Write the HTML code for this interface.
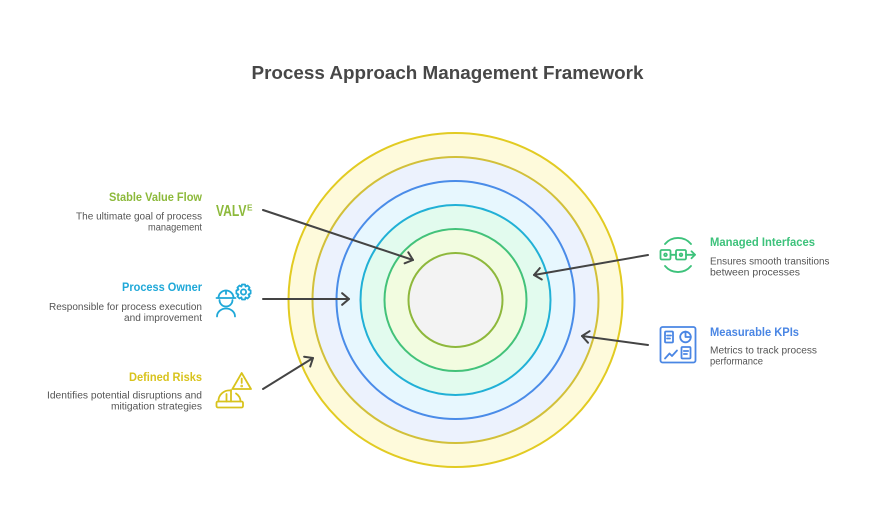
<!DOCTYPE html>
<html>
<head>
<meta charset="utf-8">
<style>
  html, body { margin:0; padding:0; background:#ffffff; }
  body { width:894px; height:528px; overflow:hidden; }
  svg { display:block; }
  text { font-family: "Liberation Sans", Arial, sans-serif; }
  .t { font-weight:bold; font-size:12px; }
  .d { font-size:10px; fill:#555555; }
</style>
</head>
<body>
<svg width="894" height="528" viewBox="0 0 894 528" xmlns="http://www.w3.org/2000/svg">
  <rect x="0" y="0" width="894" height="528" fill="#ffffff"/>

  <!-- Title -->
  <text x="251.5" y="79" font-size="18.5" font-weight="bold" fill="#474747" textLength="392" lengthAdjust="spacingAndGlyphs">Process Approach Management Framework</text>

  <!-- Concentric circles -->
  <circle cx="455.5" cy="300" r="167" fill="#fefadb" stroke="#e2cb22" stroke-width="2"/>
  <circle cx="455.5" cy="300" r="143" fill="#ecf2fd" stroke="#d2c03a" stroke-width="2"/>
  <circle cx="455.5" cy="300" r="119" fill="#e7f7fe" stroke="#4a8ce8" stroke-width="2"/>
  <circle cx="455.5" cy="300" r="95" fill="#e2fbee" stroke="#21b0d6" stroke-width="2"/>
  <circle cx="455.5" cy="300" r="71" fill="#f2fce0" stroke="#43c27a" stroke-width="2"/>
  <circle cx="455.5" cy="300" r="47" fill="#f3f3f3" stroke="#8eb83c" stroke-width="2"/>

  <!-- Arrows -->
  <g stroke="#444444" stroke-width="2" fill="none" stroke-linecap="round" stroke-linejoin="round">
    <line x1="263" y1="210" x2="413" y2="260"/>
    <polyline points="408.3,252.3 413,260 404.6,263.3"/>

    <line x1="263" y1="299" x2="349" y2="299"/>
    <polyline points="342.1,293.2 349,299 342.1,304.8"/>

    <line x1="263" y1="389" x2="313" y2="358"/>
    <polyline points="304.1,356.7 313,358 310.2,366.6"/>

    <line x1="648" y1="255" x2="534" y2="275"/>
    <polyline points="541.8,279.5 534,275 539.8,268.1"/>

    <line x1="648" y1="345" x2="582" y2="336"/>
    <polyline points="588,342.7 582,336 589.6,331.2"/>
  </g>

  <!-- Left: Stable Value Flow -->
  <text class="t" x="202" y="201" text-anchor="end" fill="#8cb93a" textLength="93" lengthAdjust="spacingAndGlyphs">Stable Value Flow</text>
  <text class="d" x="202" y="219.3" text-anchor="end" textLength="126" lengthAdjust="spacingAndGlyphs">The ultimate goal of process</text>
  <text class="d" x="202" y="230.5" text-anchor="end" textLength="54" lengthAdjust="spacingAndGlyphs">management</text>
  <!-- VALVE icon -->
  <text x="216" y="215.8" font-size="15.5" font-weight="bold" fill="#8cb93a" textLength="30.5" lengthAdjust="spacingAndGlyphs">VALV</text>
  <text x="247" y="210.5" font-size="8.5" font-weight="bold" fill="#8cb93a" textLength="5.5" lengthAdjust="spacingAndGlyphs">E</text>

  <!-- Left: Process Owner -->
  <text class="t" x="202" y="291" text-anchor="end" fill="#1fa8d8" textLength="80" lengthAdjust="spacingAndGlyphs">Process Owner</text>
  <text class="d" x="202" y="310" text-anchor="end" textLength="153" lengthAdjust="spacingAndGlyphs">Responsible for process execution</text>
  <text class="d" x="202" y="321" text-anchor="end" textLength="78" lengthAdjust="spacingAndGlyphs">and improvement</text>
  <!-- Process owner icon -->
  <g stroke="#1fa8d8" stroke-width="1.8" fill="none" stroke-linecap="round" stroke-linejoin="round">
    <path d="M218.5,298 A7.5,7.5 0 0 1 233.5,298"/>
    <line x1="216.5" y1="298" x2="235.5" y2="298"/>
    <line x1="226" y1="290.5" x2="226" y2="294"/>
    <path d="M219.5,300 A6.5,6.5 0 0 0 232.5,300"/>
    <path d="M217,316.5 A9,8 0 0 1 235,316.5"/>
    <circle cx="243.5" cy="292" r="2.6"/>
    <path d="M242,284.5 L245,284.5 L245.6,286.6 L247.5,285.5 L249.6,287.6 L248.5,289.5 L250.6,290.5 L250.6,293.5 L248.5,294.5 L249.6,296.4 L247.5,298.5 L245.6,297.4 L245,299.5 L242,299.5 L241.4,297.4 L239.5,298.5 L237.4,296.4 L238.5,294.5 L236.4,293.5 L236.4,290.5 L238.5,289.5 L237.4,287.6 L239.5,285.5 L241.4,286.6 Z"/>
  </g>

  <!-- Left: Defined Risks -->
  <text class="t" x="202" y="381" text-anchor="end" fill="#d8c31c" textLength="73" lengthAdjust="spacingAndGlyphs">Defined Risks</text>
  <text class="d" x="202" y="398.3" text-anchor="end" textLength="155" lengthAdjust="spacingAndGlyphs">Identifies potential disruptions and</text>
  <text class="d" x="202" y="409.7" text-anchor="end" textLength="91" lengthAdjust="spacingAndGlyphs">mitigation strategies</text>
  <!-- Risks icon -->
  <g stroke="#d8c31c" stroke-width="1.8" fill="none" stroke-linecap="round" stroke-linejoin="round">
    <path d="M241.7,373 L251,389 L232.4,389 Z"/>
    <line x1="241.7" y1="378.5" x2="241.7" y2="383"/>
    <circle cx="241.7" cy="386" r="0.4" fill="#d8c31c"/>
    <path d="M218.5,401.5 A11,10.5 0 0 1 231,390.5"/>
    <path d="M236,393.5 A11,10 0 0 1 240.5,401.5"/>
    <line x1="226.5" y1="394" x2="226.5" y2="401.5"/>
    <line x1="231" y1="390" x2="231" y2="401.5"/>
    <rect x="216.5" y="401.5" width="26.5" height="6" rx="1.5"/>
  </g>

  <!-- Right: Managed Interfaces -->
  <text class="t" x="710" y="246" fill="#3dc27b" textLength="105" lengthAdjust="spacingAndGlyphs">Managed Interfaces</text>
  <text class="d" x="710" y="264.3" textLength="119.5" lengthAdjust="spacingAndGlyphs">Ensures smooth transitions</text>
  <text class="d" x="710" y="275.5" textLength="90" lengthAdjust="spacingAndGlyphs">between processes</text>
  <!-- Interfaces icon -->
  <g stroke="#3dc27b" stroke-width="1.8" fill="none" stroke-linecap="round" stroke-linejoin="round">
    <path d="M665,244 A17,17 0 0 1 691,244"/>
    <path d="M665,266 A17,17 0 0 0 691,266"/>
    <rect x="660.5" y="250" width="10" height="9.5" rx="1.2"/>
    <rect x="676" y="250" width="10" height="9.5" rx="1.2"/>
    <circle cx="665.5" cy="254.8" r="1.3"/>
    <circle cx="681" cy="254.8" r="1.3"/>
    <line x1="670.5" y1="254.8" x2="676" y2="254.8"/>
    <line x1="686" y1="254.8" x2="695" y2="254.8"/>
    <polyline points="691.5,251.3 695,254.8 691.5,258.3"/>
  </g>

  <!-- Right: Measurable KPIs -->
  <text class="t" x="710" y="336" fill="#4a86e4" textLength="89" lengthAdjust="spacingAndGlyphs">Measurable KPIs</text>
  <text class="d" x="710" y="353.3" textLength="107" lengthAdjust="spacingAndGlyphs">Metrics to track process</text>
  <text class="d" x="710" y="364.7" textLength="53" lengthAdjust="spacingAndGlyphs">performance</text>
  <!-- KPI icon -->
  <g stroke="#4a86e4" stroke-width="1.8" fill="none" stroke-linecap="round" stroke-linejoin="round">
    <rect x="660.5" y="327" width="35" height="35.5" rx="2"/>
    <rect x="665" y="331.5" width="8" height="11" rx="1"/>
    <line x1="667" y1="335.5" x2="671" y2="335.5"/>
    <line x1="667" y1="338.5" x2="670" y2="338.5"/>
    <circle cx="685.5" cy="337" r="5.3"/>
    <path d="M685.5,331.7 L685.5,337 L690.8,337"/>
    <polyline points="665,358.5 669.5,353.5 672,356 677,350.5"/>
    <rect x="681.5" y="347" width="9" height="11.5" rx="1"/>
    <line x1="683.8" y1="351" x2="688.2" y2="351"/>
    <line x1="683.8" y1="354" x2="687" y2="354"/>
  </g>
</svg>
</body>
</html>
